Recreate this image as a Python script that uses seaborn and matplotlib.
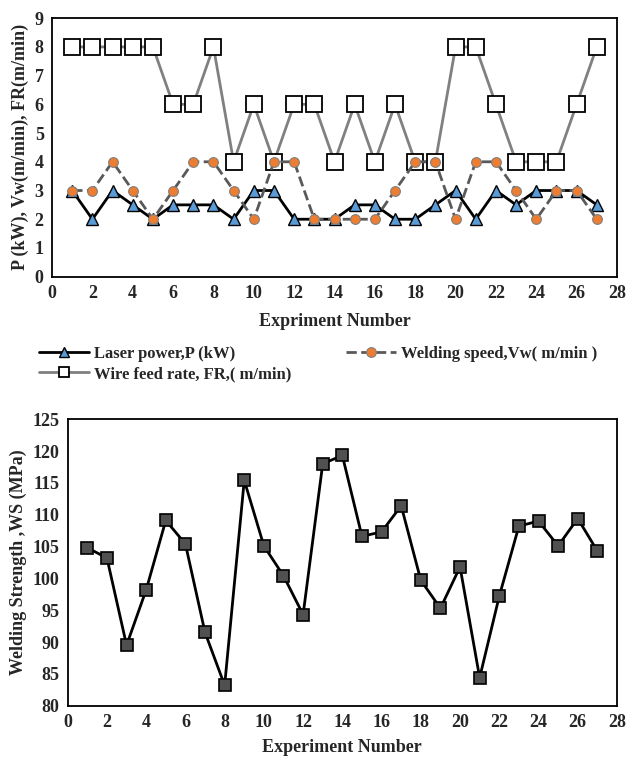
import matplotlib
matplotlib.use("Agg")
import matplotlib.pyplot as plt
import seaborn as sns
import pandas as pd

# experiment numbers 1..27
experiment = [1, 2, 3, 4, 5, 6, 7, 8, 9, 10, 11, 12, 13, 14, 15, 16, 17, 18, 19, 20,
              21, 22, 23, 24, 25, 26, 27]

laser_power = [3, 2, 3, 2.5, 2, 2.5, 2.5, 2.5, 2, 3, 3, 2, 2, 2, 2.5, 2.5, 2, 2, 2.5, 3,
               2, 3, 2.5, 3, 3, 3, 2.5]
welding_speed = [3, 3, 4, 3, 2, 3, 4, 4, 3, 2, 4, 4, 2, 2, 2, 2, 3, 4, 4, 2,
                 4, 4, 3, 2, 3, 3, 2]
wire_feed = [8, 8, 8, 8, 8, 6, 6, 8, 4, 6, 4, 6, 6, 4, 6, 4, 6, 4, 4, 8,
             8, 6, 4, 4, 4, 6, 8]
strength = [104.8, 103.2, 89.5, 98.2, 109.1, 105.4, 91.5, 83.2, 115.4, 105.1, 100.4, 94.3,
            118.0, 119.3, 106.6, 107.3, 111.4, 99.7, 95.3, 101.8, 84.4, 97.2, 108.2, 109.0,
            105.1, 109.4, 104.3]

x_ticks = list(range(0, 29, 2))
top_y_ticks = list(range(0, 10))
bottom_y_ticks = list(range(80, 126, 5))

sns.set_style("white")
plt.rcParams['font.family'] = ['Liberation Serif', 'DejaVu Serif']
plt.rcParams['font.weight'] = 'bold'

df = pd.DataFrame({'exp': experiment, 'P': laser_power, 'Vw': welding_speed,
                   'FR': wire_feed, 'WS': strength})

fig = plt.figure(figsize=(6.27, 7.58), dpi=100)
ax1 = fig.add_axes([0.083, 0.635, 0.901, 0.341])
ax2 = fig.add_axes([0.108, 0.069, 0.876, 0.378])

# top chart: process parameters
sns.lineplot(data=df, x='exp', y='FR', ax=ax1, sort=False, color='#808080', lw=2,
             marker='s', markersize=11, markerfacecolor='white', markeredgecolor='black',
             markeredgewidth=1.3, label='Wire feed rate, FR,( m/min)', zorder=2)
sns.lineplot(data=df, x='exp', y='P', ax=ax1, sort=False, color='black', lw=2,
             marker='^', markersize=8, markerfacecolor='#5B9BD5', markeredgecolor='black',
             markeredgewidth=1.0, label='Laser power,P (kW)', zorder=3)
sns.lineplot(data=df, x='exp', y='Vw', ax=ax1, sort=False, color='#595959', lw=2,
             linestyle='--', marker='o', markersize=7, markerfacecolor='#ED7D31',
             markeredgecolor='#7f7f7f', markeredgewidth=0.8,
             label='Welding speed,Vw( m/min )', zorder=4)

ax1.set_xlim(0, 28)
ax1.set_ylim(0, 9)
ax1.set_xticks(x_ticks)
ax1.set_yticks(top_y_ticks)
ax1.set_xlabel('Expriment Number', fontsize=13, fontweight='bold', labelpad=8)
ax1.set_ylabel('P (kW), Vw(m/min), FR(m/min)', fontsize=13, fontweight='bold', labelpad=4)

handles, labels = ax1.get_legend_handles_labels()
order = [1, 0, 2]
leg = ax1.legend([handles[i] for i in order], [labels[i] for i in order], ncol=2,
                 loc='upper left', bbox_to_anchor=(-0.05, -0.21), frameon=False,
                 fontsize=12, handlelength=3, columnspacing=3.3, handletextpad=0.3,
                 labelspacing=0.25)
# smaller markers in the legend keys, like the source
for h, ms in zip(leg.legend_handles, [7, 7, 7]):
    h.set_markersize(ms)

# bottom chart: welding strength
sns.lineplot(data=df, x='exp', y='WS', ax=ax2, sort=False, color='black', lw=2,
             marker='s', markersize=8.5, markerfacecolor='#505050', markeredgecolor='black',
             markeredgewidth=1.2)
ax2.set_xlim(0, 28)
ax2.set_ylim(80, 125)
ax2.set_xticks(x_ticks)
ax2.set_yticks(bottom_y_ticks)
ax2.set_xlabel('Experiment Number', fontsize=13, fontweight='bold', labelpad=6)
ax2.set_ylabel('Welding Strength ,WS (MPa)', fontsize=13, fontweight='bold', labelpad=4)

for ax in (ax1, ax2):
    for s in ax.spines.values():
        s.set_color('black')
        s.set_linewidth(1.3)
    ax.tick_params(length=0, labelsize=13, pad=6)
    for t in ax.get_xticklabels() + ax.get_yticklabels():
        t.set_fontweight('bold')

fig.savefig('out.png', dpi=100)
